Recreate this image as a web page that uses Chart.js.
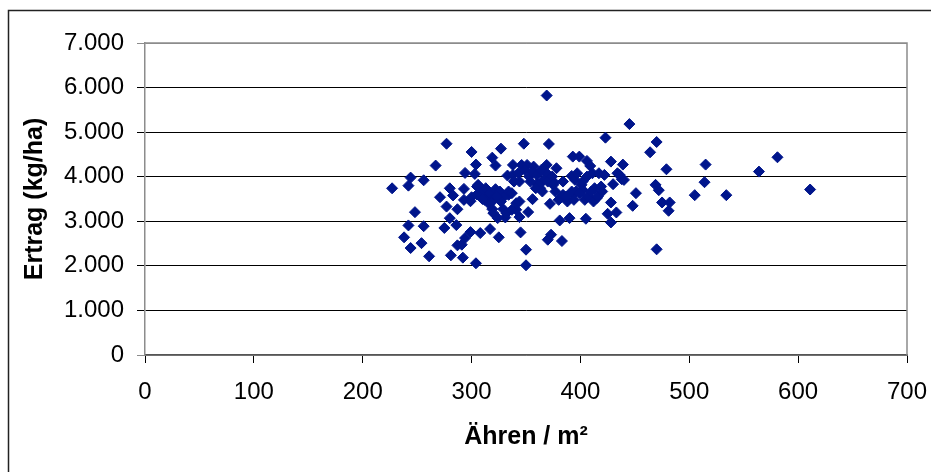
<!DOCTYPE html>
<html>
<head>
<meta charset="utf-8">
<script src="https://cdn.jsdelivr.net/npm/chart.js@4/dist/chart.umd.min.js"></script>
<style>
  html, body { margin: 0; padding: 0; background: #fff; }
  #wrap { width: 931px; height: 472px; position: relative; }
</style>
</head>
<body>
<div id="wrap"><canvas id="c" width="931" height="472"></canvas></div>
<script>
// Ähren / m² (x) and Ertrag kg/ha (y)
const ahren = [
  227,242,244,256,267,277,248,242,256,238,244,254,261,271,277,280,283,280,286,287,
  275,281,292,287,291,294,299,300,304,304,294,303,293,293,300,306,308,317,325,319,
  322,327,311,313,316,319,324,329,331,334,333,338,338,346,348,351,357,344,344,341,
  344,352,345,350,350,356,360,363,369,371,369,369,376,378,372,380,381,370,373,383,
  384,390,388,393,399,392,395,401,396,402,406,409,411,404,405,413,415,417,422,423,
  428,428,430,425,433,428,434,438,439,445,448,451,464,470,469,472,475,479,482,481,
  470,505,515,514,534,564,581,611,
  305,310,313,317,322,326,330,334,337,312,319,327,320,324,332,337,341,339,343,349,
  353,356,360,364,366,362,359,354,365,370,374,375,377,384,387,392,394,397,399,402,
  406,407,410,412,416,419,420,436,440,
  299,305,310,318,323
];
const ertrag = [
  3740,3800,3980,3920,4250,4740,3205,2907,2890,2640,2400,2510,2214,3540,3330,3740,3580,3070,2915,3270,
  2850,2236,2184,2460,2475,2624,2758,4555,4272,2058,4085,4063,3727,3480,3540,3817,2736,2825,2640,4428,
  4250,4630,3690,3556,3392,3273,3630,3273,3086,3593,4026,4264,4041,4264,4741,4264,4227,3892,3444,3258,
  3094,3206,2751,2363,2013,3496,3839,3742,5822,4734,4264,4078,3869,4190,3392,3481,3019,2587,2699,2557,
  3593,3071,3444,4451,4451,4018,3929,3817,3668,3705,4354,4242,4078,3481,3057,3742,3519,4078,4041,4876,
  4339,3422,3832,3168,3198,2974,4078,3944,4272,5181,3347,3631,4548,4779,3817,3698,3422,4167,3422,3236,
  2371,3586,4272,3877,3586,4115,4436,3713,
  3780,3668,3742,3631,3720,3668,3556,3668,3631,3481,3481,3444,3183,3071,3183,3258,3407,3891,4078,4152,
  4003,4115,4041,4152,3929,3817,3742,3891,3668,3891,4003,3817,3668,3891,3556,3668,3481,4078,3631,3891,
  4003,3556,3668,3444,3556,3780,3668,4041,3929,
  3450,3600,3500,3420,3560
];
const xTickValues = [0,100,200,300,400,500,600,700];
const yTickValues = [0,1000,2000,3000,4000,5000,6000,7000];
const xTitle = 'Ähren / m²';
const yTitle = 'Ertrag (kg/ha)';

const points = ahren.map((x, i) => ({ x: x, y: ertrag[i] }));

function fmtDE(v) {
  return String(v).replace(/\B(?=(\d{3})+(?!\d))/g, '.');
}

const frame = {
  id: 'frame',
  beforeDraw(chart) {
    const ctx = chart.ctx;
    ctx.save();
    ctx.fillStyle = '#fff';
    ctx.fillRect(0, 0, chart.width, chart.height);
    ctx.strokeStyle = '#222';
    ctx.lineWidth = 1.5;
    ctx.beginPath();
    ctx.moveTo(8.5, chart.height + 2);
    ctx.lineTo(8.5, 10.5);
    ctx.lineTo(chart.width + 2, 10.5);
    ctx.stroke();
    ctx.restore();
  },
  beforeDatasetsDraw(chart) {
    const a = chart.chartArea;
    const ctx = chart.ctx;
    ctx.save();
    ctx.strokeStyle = '#8c8c8c';
    ctx.lineWidth = 1.5;
    ctx.beginPath();
    ctx.moveTo(a.left, a.top);
    ctx.lineTo(a.right, a.top);
    ctx.lineTo(a.right, a.bottom);
    ctx.stroke();
    ctx.restore();
  }
};

const fontT = { family: '"Liberation Sans", Arial, sans-serif', size: 24 };
const fontB = { family: '"Liberation Sans", Arial, sans-serif', size: 25, weight: 'bold' };

new Chart(document.getElementById('c'), {
  type: 'scatter',
  data: {
    datasets: [{
      data: points,
      pointStyle: 'rectRot',
      pointRadius: 5.5,
      pointHoverRadius: 5.5,
      backgroundColor: '#00158C',
      borderColor: '#00158C',
      borderWidth: 1
    }]
  },
  options: {
    responsive: false,
    animation: false,
    events: [],
    layout: { padding: { top: 43, right: 24, left: 0, bottom: 0 } },
    plugins: { legend: { display: false }, tooltip: { enabled: false } },
    scales: {
      x: {
        type: 'linear',
        min: 0, max: 700,
        afterBuildTicks(s) { s.ticks = xTickValues.map(v => ({ value: v })); },
        afterFit(s) { s.height = 117; s.paddingLeft = 0; s.paddingRight = 0; },
        ticks: { font: fontT, color: '#000', padding: 15, maxRotation: 0 },
        grid: { drawOnChartArea: false, drawTicks: true, tickLength: 8, color: '#000', lineWidth: 1 },
        border: { display: true, color: '#555', width: 1.5 },
        title: { display: true, text: xTitle, font: fontB, color: '#000', padding: { top: 0, bottom: 20 } }
      },
      y: {
        type: 'linear',
        min: 0, max: 7000,
        afterBuildTicks(s) { s.ticks = yTickValues.map(v => ({ value: v })); },
        afterFit(s) { s.width = 145; s.paddingTop = 0; s.paddingBottom = 0; },
        ticks: { font: fontT, color: '#000', padding: 13, callback: v => fmtDE(v) },
        grid: {
          drawTicks: true, tickLength: 8,
          color: c => (c.tick && (c.tick.value === 7000 || c.tick.value === 0)) ? '#8c8c8c' : '#000',
          lineWidth: 1
        },
        border: { display: true, color: '#8c8c8c', width: 1.5 },
        title: { display: true, text: yTitle, font: fontB, color: '#000', padding: { top: 20, bottom: 0 } }
      }
    }
  },
  plugins: [frame]
});
</script>
</body>
</html>
